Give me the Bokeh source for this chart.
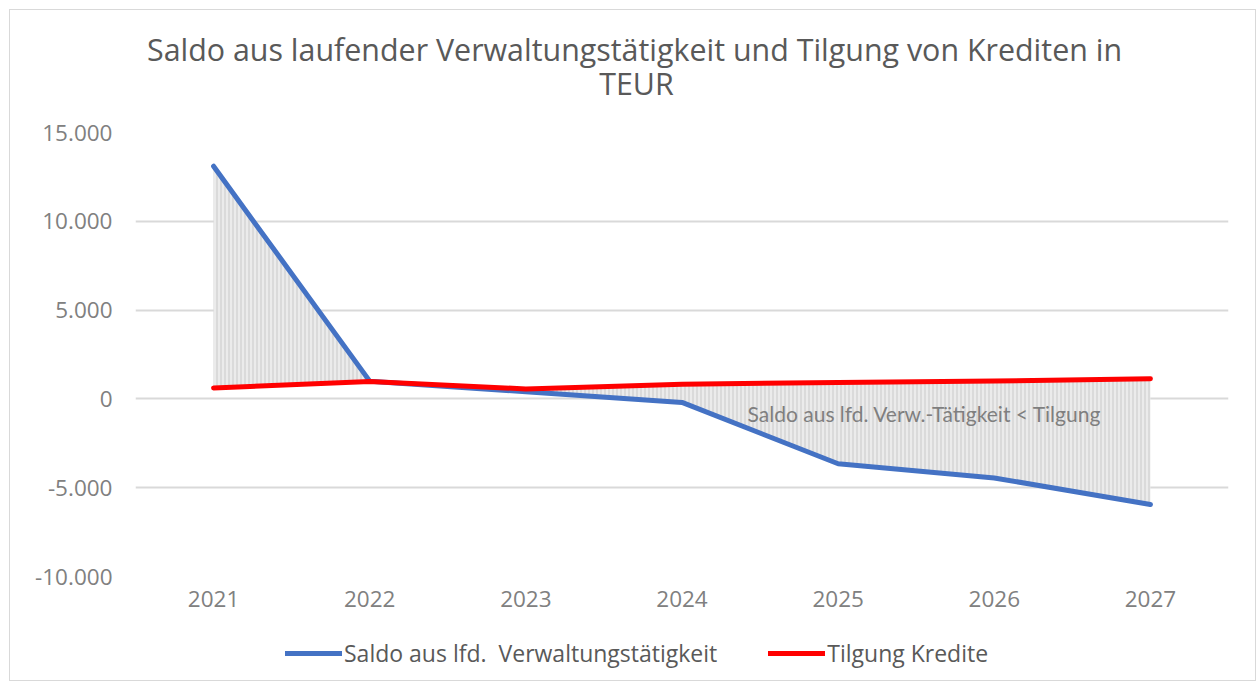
from bokeh.plotting import figure
from bokeh.layouts import column
from bokeh.models import Range1d, FixedTicker, Legend, LegendItem, Label
from bokeh.embed import file_html
from bokeh.resources import INLINE

# ---- data ----
years = ["2021", "2022", "2023", "2024", "2025", "2026", "2027"]
saldo = [13100, 1000, 400, -200, -3650, -4450, -5950]
tilgung = [620, 980, 560, 830, 920, 1010, 1130]
y_ticks = [-10000, -5000, 0, 5000, 10000, 15000]
y_tick_labels = ["-10.000", "-5.000", "0", "5.000", "10.000", "15.000"]
title_line1 = "Saldo aus laufender Verwaltungstätigkeit und Tilgung von Krediten in"
title_line2 = "TEUR"
series_names = ["Saldo aus lfd.  Verwaltungstätigkeit", "Tilgung Kredite"]
note_text = "Saldo aus lfd. Verw.-Tätigkeit < Tilgung"

x = list(range(len(years)))

FONT = "Open Sans"
W = 1245


def bare(fig):
    fig.outline_line_color = None
    fig.background_fill_color = "white"
    fig.border_fill_color = "white"
    fig.grid.visible = False
    return fig


# ---- title strip (its frame is aligned with the chart frame by the column) ----
tf = bare(figure(width=W, height=100, output_backend="svg", toolbar_location=None,
                 x_range=Range1d(0, 1), y_range=Range1d(0, 1),
                 x_axis_location=None, y_axis_location=None,
                 min_border=0))
for txt, sx, sy in ((title_line1, 499, 61), (title_line2, 501, 27)):
    tf.add_layout(Label(x=sx, y=sy, x_units="screen", y_units="screen", text=txt,
                        text_align="center", text_baseline="middle",
                        text_font=FONT, text_font_size="30.4px",
                        text_color="#595959"))

# ---- main chart ----
p = figure(width=W, height=512, output_backend="svg", toolbar_location=None,
           x_range=Range1d(-0.5, len(years) - 0.5), y_range=Range1d(-10000, 15000),
           min_border_left=125, min_border_right=27, min_border_top=22,
           min_border_bottom=46)
p.outline_line_color = None
p.background_fill_color = "white"
p.border_fill_color = "white"

p.xgrid.visible = False
p.ygrid.ticker = FixedTicker(ticks=y_ticks)
p.ygrid.grid_line_color = "#d9d9d9"
p.ygrid.grid_line_width = 1.8

for ax in (p.xaxis[0], p.yaxis[0]):
    ax.axis_line_color = None
    ax.major_tick_line_color = None
    ax.minor_tick_line_color = None
    ax.major_tick_out = 0
    ax.major_tick_in = 0
    ax.major_label_text_font = FONT
    ax.major_label_text_font_size = "22.5px"
    ax.major_label_text_color = "#808080"
p.yaxis.ticker = FixedTicker(ticks=y_ticks)
p.yaxis.major_label_overrides = {t: l for t, l in zip(y_ticks, y_tick_labels)}
p.yaxis.major_label_standoff = 23
p.xaxis.ticker = FixedTicker(ticks=x)
p.xaxis.major_label_overrides = {i: yr for i, yr in enumerate(years)}
p.xaxis.major_label_standoff = 14

p.varea(x=x, y1=saldo, y2=tilgung, fill_color="#ebebeb",
        hatch_pattern="vertical_line", hatch_color="#d4d4d4",
        hatch_scale=4, hatch_weight=1.5)
p.line(x, saldo, line_color="#4472C4", line_width=5,
       line_cap="round", line_join="round")
p.line(x, tilgung, line_color="#FF0000", line_width=5,
       line_cap="round", line_join="round")
p.add_layout(Label(x=3.42, y=-850, text=note_text, text_baseline="middle",
                   text_align="left", text_font="Lato", text_font_size="21px",
                   text_color="#7f7f7f"))

# ---- legend strip (same series, lines fall outside its view) ----
lf = bare(figure(width=W, height=58, output_backend="svg", toolbar_location=None,
                 x_range=Range1d(100, 101), y_range=Range1d(0, 1),
                 x_axis_location=None, y_axis_location=None,
                 min_border=0))
l1 = lf.line(x, saldo, line_color="#4472C4", line_width=5, line_cap="round")
l2 = lf.line(x, tilgung, line_color="#FF0000", line_width=5, line_cap="round")
legend = Legend(items=[LegendItem(label=series_names[0], renderers=[l1]),
                       LegendItem(label=series_names[1], renderers=[l2])],
                orientation="horizontal", location=(150, 11),
                glyph_width=57, label_standoff=2, spacing=51,
                padding=0, margin=0, border_line_color=None,
                background_fill_alpha=0, label_text_font=FONT,
                label_text_font_size="23px", label_text_color="#595959")
lf.add_layout(legend, "center")

layout = column(tf, p, lf, spacing=0,
                styles={"border": "1px solid #d9d9d9",
                        "transform": "translate(9px, 9px)"})

open("out.html", "w").write(file_html(layout, INLINE))
